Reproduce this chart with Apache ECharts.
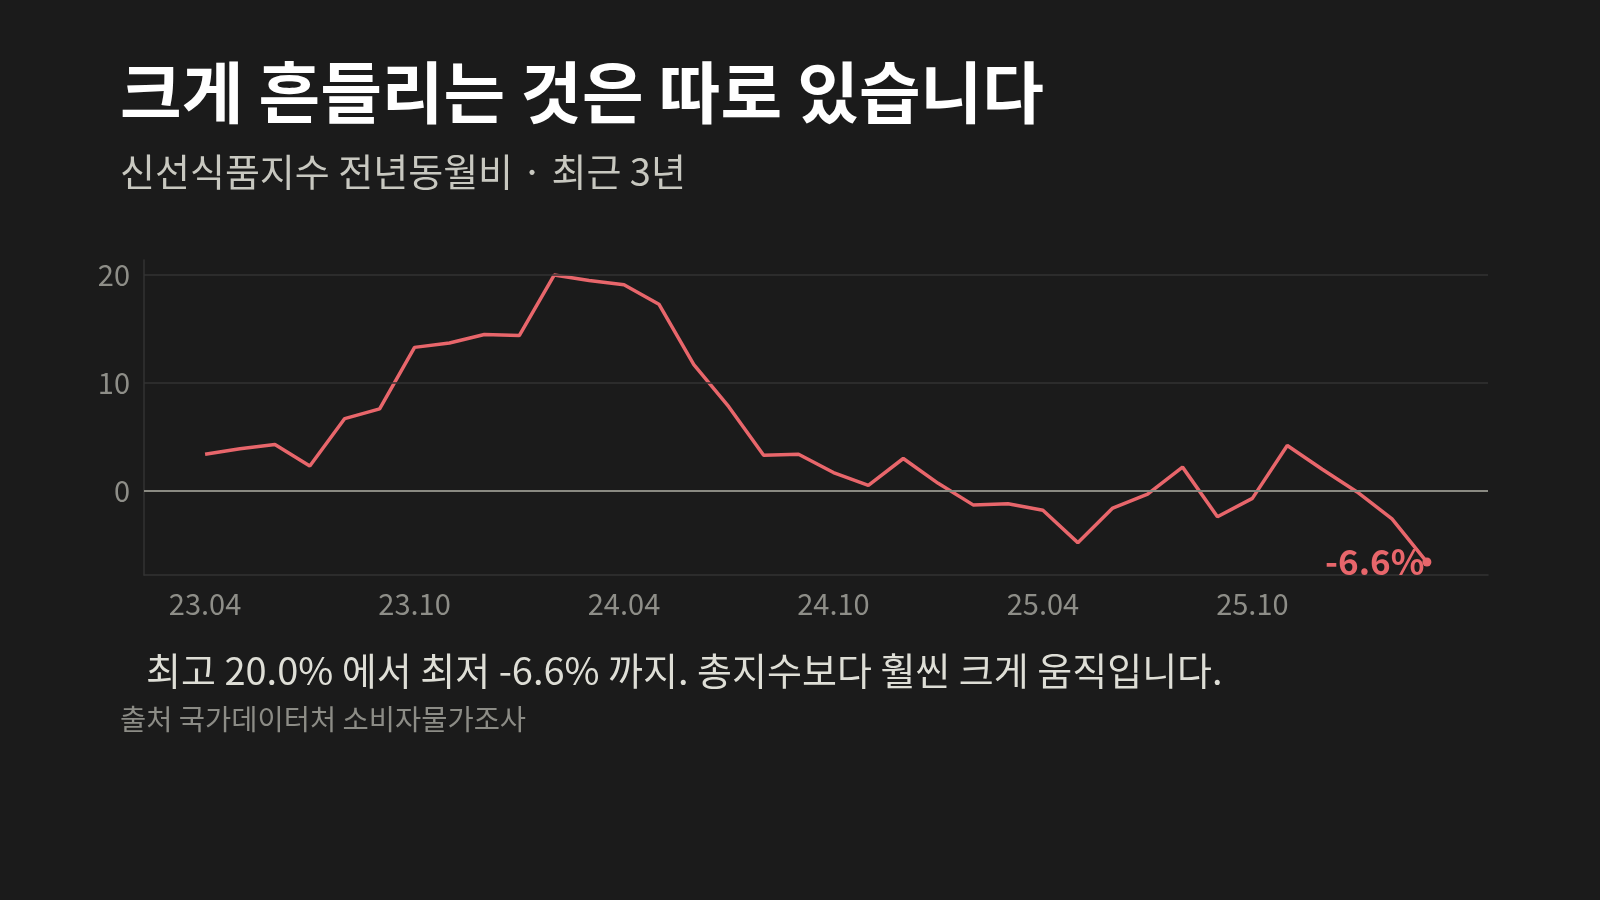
<!DOCTYPE html>
<html>
<head>
<meta charset="utf-8">
<script src="https://cdn.jsdelivr.net/npm/echarts@6/dist/echarts.min.js"></script>
<style>
html, body { margin: 0; padding: 0; background: #1b1b1b; }
#chart { width: 1600px; height: 900px; }
</style>
</head>
<body>
<div id="chart"></div>
<script>
let months = [
    '23.04', '23.05', '23.06', '23.07', '23.08', '23.09', '23.10', '23.11', '23.12',
    '24.01', '24.02', '24.03', '24.04', '24.05', '24.06', '24.07', '24.08', '24.09',
    '24.10', '24.11', '24.12', '25.01', '25.02', '25.03', '25.04', '25.05', '25.06',
    '25.07', '25.08', '25.09', '25.10', '25.11', '25.12', '26.01', '26.02', '26.03'
];
let freshFoodYoY = [
    3.4, 3.9, 4.3, 2.3, 6.7, 7.6, 13.3, 13.7, 14.5,
    14.4, 20.0, 19.5, 19.1, 17.3, 11.7, 7.8, 3.3, 3.4,
    1.7, 0.5, 3.0, 0.7, -1.3, -1.2, -1.8, -4.8, -1.6,
    -0.3, 2.2, -2.4, -0.7, 4.2, 2.0, -0.1, -2.6, -6.6
];
let xLabelIndexes = [0, 6, 12, 18, 24, 30];
let yTickValues = [0, 10, 20];
let gridValues = [10, 20];

let fontFamily = '"Noto Sans CJK KR", "Noto Sans", sans-serif';
let lineColor = '#e8666b';
let lastIndex = freshFoodYoY.length - 1;
let lineData = freshFoodYoY.map(function (v, i) {
    return [i, v];
});

let chart = echarts.init(document.getElementById('chart'));
let option = {
    backgroundColor: '#1b1b1b',
    animation: false,
    title: [{
        text: '크게 흔들리는 것은 따로 있습니다',
        left: 120,
        top: 59,
        padding: 0,
        textStyle: { color: '#ffffff', fontSize: 67, fontWeight: 'bold', fontFamily: fontFamily }
    }, {
        text: '신선식품지수 전년동월비 · 최근 3년',
        left: 120,
        top: 153,
        padding: 0,
        textStyle: { color: '#c8c8c0', fontSize: 38, fontWeight: 'normal', fontFamily: fontFamily }
    }, {
        text: '최고 20.0% 에서 최저 -6.6% 까지. 총지수보다 훨씬 크게 움직입니다.',
        left: 146,
        top: 652,
        padding: 0,
        textStyle: { color: '#deded6', fontSize: 38, fontWeight: 'normal', fontFamily: fontFamily }
    }, {
        text: '출처 국가데이터처 소비자물가조사',
        left: 120,
        top: 705,
        padding: 0,
        textStyle: { color: '#8c8c86', fontSize: 28.5, fontWeight: 'normal', fontFamily: fontFamily }
    }],
    grid: {
        left: 144,
        right: 112,
        top: 260,
        bottom: 325
    },
    xAxis: {
        type: 'value',
        min: -1.75,
        max: lastIndex + 1.75,
        axisLine: { show: true, onZero: false, lineStyle: { color: '#333333', width: 1.5 } },
        axisTick: { show: false },
        splitLine: { show: false },
        axisLabel: {
            customValues: xLabelIndexes,
            formatter: function (value) {
                return months[value];
            },
            color: '#8e8e88',
            fontSize: 29,
            fontFamily: fontFamily,
            margin: 14
        }
    },
    yAxis: {
        type: 'value',
        min: -7.8,
        max: 21.4,
        axisLine: { show: true, onZero: false, lineStyle: { color: '#333333', width: 1.5 } },
        axisTick: { show: false },
        splitLine: { show: false },
        axisLabel: {
            customValues: yTickValues,
            color: '#8e8e88',
            fontSize: 29,
            fontFamily: fontFamily,
            margin: 14
        }
    },
    series: [{
        name: 'grid',
        type: 'line',
        data: [],
        z: 1,
        silent: true,
        markLine: {
            silent: true,
            symbol: 'none',
            label: { show: false },
            data: gridValues.map(function (v) {
                return { yAxis: v, lineStyle: { color: '#333333', width: 1.5, type: 'solid' } };
            }).concat([{ yAxis: 0, lineStyle: { color: '#8a8a82', width: 2, type: 'solid' } }])
        }
    }, {
        name: '신선식품지수',
        type: 'line',
        z: 3,
        data: lineData,
        symbol: 'none',
        lineStyle: { color: lineColor, width: 3.5 }
    }, {
        name: 'last',
        type: 'scatter',
        z: 4,
        data: [[lastIndex, freshFoodYoY[lastIndex]]],
        symbol: 'circle',
        symbolSize: 9,
        itemStyle: { color: lineColor, opacity: 1 },
        label: {
            show: true,
            position: 'left',
            distance: -2,
            formatter: function (p) {
                return p.value[1].toFixed(1) + '%';
            },
            color: lineColor,
            opacity: 1,
            fontSize: 35,
            fontWeight: 'bold',
            fontFamily: fontFamily
        }
    }]
};
chart.setOption(option);
</script>
</body>
</html>
